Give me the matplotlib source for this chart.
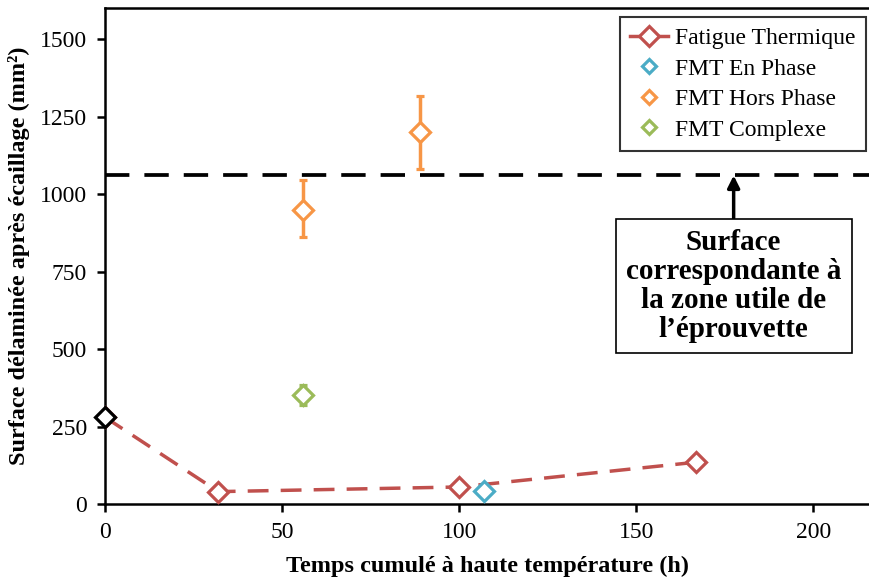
import matplotlib
matplotlib.use("Agg")
import matplotlib.pyplot as plt
from matplotlib.lines import Line2D

# Donnees
ft_x = [0, 32, 100, 167]
ft_y = [280, 40, 55, 135]

enphase_x = [107]
enphase_y = [42]

horsphase_x = [56, 89]
horsphase_y = [950, 1200]
horsphase_err_lo = [90, 120]
horsphase_err_hi = [95, 115]

complexe_x = [56]
complexe_y = [352]
complexe_err = [32]

ref_x = [0]
ref_y = [280]
ref_err = [20]

seuil = 1060

rouge = '#C0504D'
bleu = '#4BACC6'
orange = '#F79646'
vert = '#9BBB59'

plt.rcParams['font.family'] = ['Liberation Serif', 'DejaVu Serif']

fig = plt.figure(figsize=(8.7, 5.8), dpi=100)
ax = fig.add_axes([0.1207, 0.131, 0.8793, 0.855])

mk = dict(marker='D', markersize=10.5, markeredgewidth=2.3, markerfacecolor='white')
eb = dict(fmt='D', elinewidth=2.5, capsize=3, capthick=2.5, markersize=10.5,
          markeredgewidth=2.3, markerfacecolor='white')

ax.plot(ft_x, ft_y, color=rouge, linestyle=(0, (6, 3.5)), linewidth=2.5,
        markeredgecolor=rouge, zorder=3, **mk)
ax.errorbar(ref_x, ref_y, yerr=ref_err, color='black', ecolor='black', zorder=4,
            clip_on=False, **eb)
ax.plot(enphase_x, enphase_y, linestyle='none', markeredgecolor=bleu, zorder=3, **mk)
ax.errorbar(horsphase_x, horsphase_y, yerr=[horsphase_err_lo, horsphase_err_hi],
            color=orange, ecolor=orange, zorder=3, **eb)
ax.errorbar(complexe_x, complexe_y, yerr=complexe_err,
            color=vert, ecolor=vert, zorder=3, **eb)

ax.axhline(seuil, color='black', linestyle=(0, (6.5, 4)), linewidth=2.7, zorder=2)

ax.set_xlim(0, 216)
ax.set_ylim(0, 1600)
ax.set_xticks([0, 50, 100, 150, 200])
ax.set_yticks([0, 250, 500, 750, 1000, 1250, 1500])
ax.tick_params(labelsize=17, width=1.8, length=6, direction='out', pad=7)
for s in ['left', 'bottom', 'top']:
    ax.spines[s].set_linewidth(1.8)
ax.spines['right'].set_visible(False)

ax.set_xlabel('Temps cumulé à haute température (h)', fontsize=17.5, fontweight='bold', labelpad=9)
ax.set_ylabel('Surface délaminée après écaillage (mm²)', fontsize=17.5, fontweight='bold', labelpad=7)

# legende : marqueurs seuls (sans barres d'erreur)
handles = [
    Line2D([], [], color=rouge, linestyle='-', linewidth=2.5, markeredgecolor=rouge, **mk),
    Line2D([], [], linestyle='none', markeredgecolor=bleu, marker='D', markersize=7,
           markeredgewidth=2.3, markerfacecolor='white'),
    Line2D([], [], linestyle='none', markeredgecolor=orange, marker='D', markersize=7,
           markeredgewidth=2.3, markerfacecolor='white'),
    Line2D([], [], linestyle='none', markeredgecolor=vert, marker='D', markersize=7,
           markeredgewidth=2.3, markerfacecolor='white'),
]
labels = ['Fatigue Thermique', 'FMT En Phase', 'FMT Hors Phase', 'FMT Complexe']
leg = ax.legend(handles, labels, loc='upper right', bbox_to_anchor=(0.995, 0.982),
                borderaxespad=0, fontsize=17, frameon=True, fancybox=False,
                edgecolor='black', handlelength=1.6, borderpad=0.45, labelspacing=0.38,
                handletextpad=0.3)
leg.get_frame().set_linewidth(1.5)

ax.annotate('Surface\ncorrespondante à\nla zone utile de\nl\u2019éprouvette',
            xy=(177.5, seuil), xytext=(177.5, 703), textcoords='data',
            ha='center', va='center', fontsize=21, fontweight='bold', linespacing=1.1,
            bbox=dict(boxstyle='square,pad=0.35', facecolor='white', edgecolor='black', linewidth=1.2),
            arrowprops=dict(arrowstyle='-|>', color='black', lw=2.5, mutation_scale=18,
                            shrinkA=0, shrinkB=0))

fig.savefig('out.png', dpi=100)
